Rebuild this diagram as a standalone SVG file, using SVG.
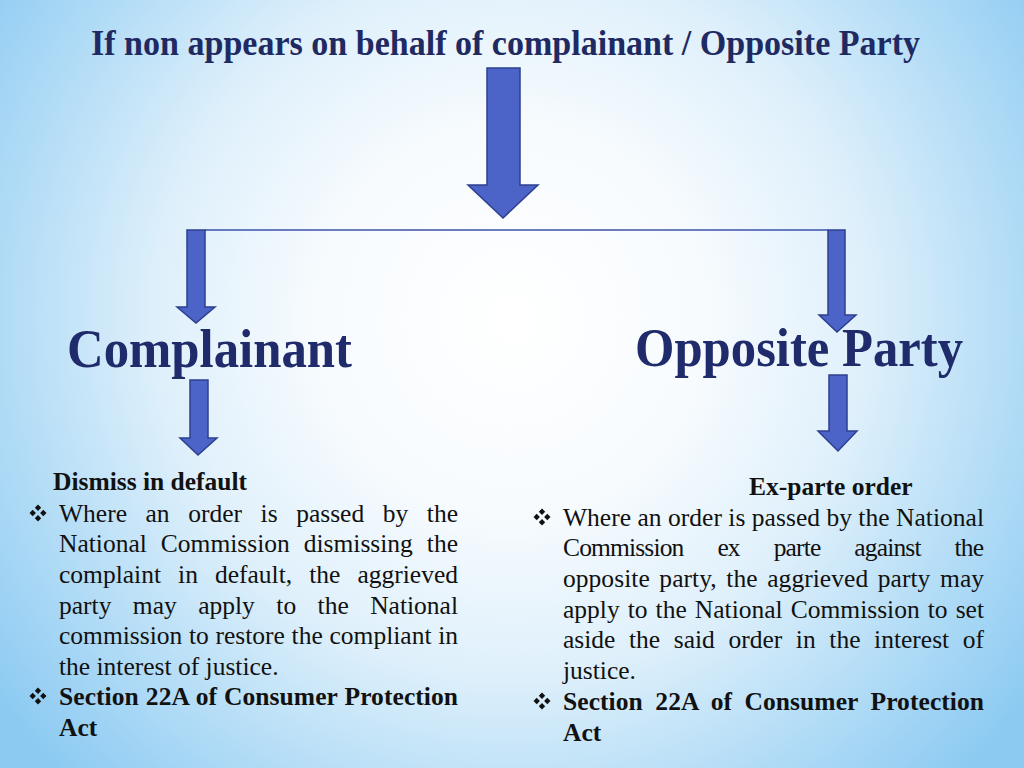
<svg xmlns="http://www.w3.org/2000/svg" width="1024" height="768" viewBox="0 0 1024 768">
  <defs>
    <radialGradient id="bg" cx="512" cy="320" r="640" gradientUnits="userSpaceOnUse">
      <stop offset="0" stop-color="#ffffff"/>
      <stop offset="0.3" stop-color="#f7fbfe"/>
      <stop offset="0.55" stop-color="#dff0fb"/>
      <stop offset="0.8" stop-color="#b0dbf6"/>
      <stop offset="1" stop-color="#8ccaf2"/>
    </radialGradient>
    <g id="bullet">
      <polygon points="0,-8.5 3.2,-5.3 0,-2.1 -3.2,-5.3"/>
      <polygon points="0,8.5 3.2,5.3 0,2.1 -3.2,5.3"/>
      <polygon points="-8.5,0 -5.3,-3.2 -2.1,0 -5.3,3.2"/>
      <polygon points="8.5,0 5.3,-3.2 2.1,0 5.3,3.2"/>
    </g>
  </defs>
  <style>
    .arrow { fill: #4c64c8; stroke: #2c3f8e; stroke-width: 1.5; stroke-linejoin: miter; }
    .conn { stroke: #3d52aa; stroke-width: 1.3; fill: none; }
    .title { font-family: "Liberation Serif", "Times New Roman", serif; font-weight: bold; fill: #1f2a62; }
    .head { font-family: "Liberation Serif", "Times New Roman", serif; font-weight: bold; fill: #1f2b6b; font-size: 54px; }
    .body { font-family: "Liberation Serif", "Times New Roman", serif; font-size: 25.5px; fill: #111111; }
    .bold { font-weight: bold; }
    .bul { fill: #111111; }
  </style>

  <rect x="0" y="0" width="1024" height="768" fill="url(#bg)"/>

  <g id="title">
    <text class="title" x="505.5" y="55" font-size="36" text-anchor="middle" textLength="829" lengthAdjust="spacingAndGlyphs">If non appears on behalf of complainant / Opposite Party</text>
  </g>

  <g id="connectors">
    <polygon class="arrow" points="487,68 520,68 520,185 538,185 503,218 468,185 487,185"/>
    <line class="conn" x1="205" y1="230" x2="828" y2="230"/>
    <polygon class="arrow" points="187,230 205,230 205,307 215,307 196,323 177,307 187,307"/>
    <polygon class="arrow" points="190,380 208,380 208,438 217,438 198,455 180,438 190,438"/>
    <polygon class="arrow" points="828,230 845,230 845,315 856,315 837,332 819,315 828,315"/>
    <polygon class="arrow" points="829,375 847,375 847,431 857,431 838,451 818,431 829,431"/>
  </g>

  <g id="complainant">
    <text class="head" x="67" y="367" textLength="285" lengthAdjust="spacingAndGlyphs">Complainant</text>
  </g>

  <g id="opposite-party">
    <text class="head" x="635" y="366" textLength="328" lengthAdjust="spacingAndGlyphs">Opposite Party</text>
  </g>

  <g id="dismiss-in-default" class="body">
    <text class="bold" x="53" y="490">Dismiss in default</text>
    <use href="#bullet" class="bul" x="38" y="513"/>
    <text x="59" y="522" word-spacing="12.2" textLength="399">Where an order is passed by the</text>
    <text x="59" y="552" word-spacing="7.6" textLength="399">National Commission dismissing the</text>
    <text x="59" y="583" word-spacing="10.7" textLength="399">complaint in default, the aggrieved</text>
    <text x="59" y="614" word-spacing="15.06" textLength="399">party may apply to the National</text>
    <text x="59" y="644" word-spacing="0.3" textLength="399">commission to restore the compliant in</text>
    <text x="59" y="675">the interest of justice.</text>
    <use href="#bullet" class="bul" x="38" y="696"/>
    <text class="bold" x="59" y="705" word-spacing="0.6" textLength="399">Section 22A of Consumer Protection</text>
    <text class="bold" x="59" y="736">Act</text>
  </g>

  <g id="ex-parte-order" class="body">
    <text class="bold" x="749" y="495">Ex-parte order</text>
    <use href="#bullet" class="bul" x="542" y="517"/>
    <text x="563" y="526" textLength="421">Where an order is passed by the National</text>
    <text x="563" y="556" word-spacing="28.4" textLength="421">Commission ex parte against the</text>
    <text x="563" y="587" word-spacing="3.18" textLength="421">opposite party, the aggrieved party may</text>
    <text x="563" y="618" word-spacing="1.69" textLength="421">apply to the National Commission to set</text>
    <text x="563" y="648" word-spacing="7.23" textLength="421">aside the said order in the interest of</text>
    <text x="563" y="679">justice.</text>
    <use href="#bullet" class="bul" x="542" y="701"/>
    <text class="bold" x="563" y="710" word-spacing="6.1" textLength="421">Section 22A of Consumer Protection</text>
    <text class="bold" x="563" y="741">Act</text>
  </g>
</svg>
